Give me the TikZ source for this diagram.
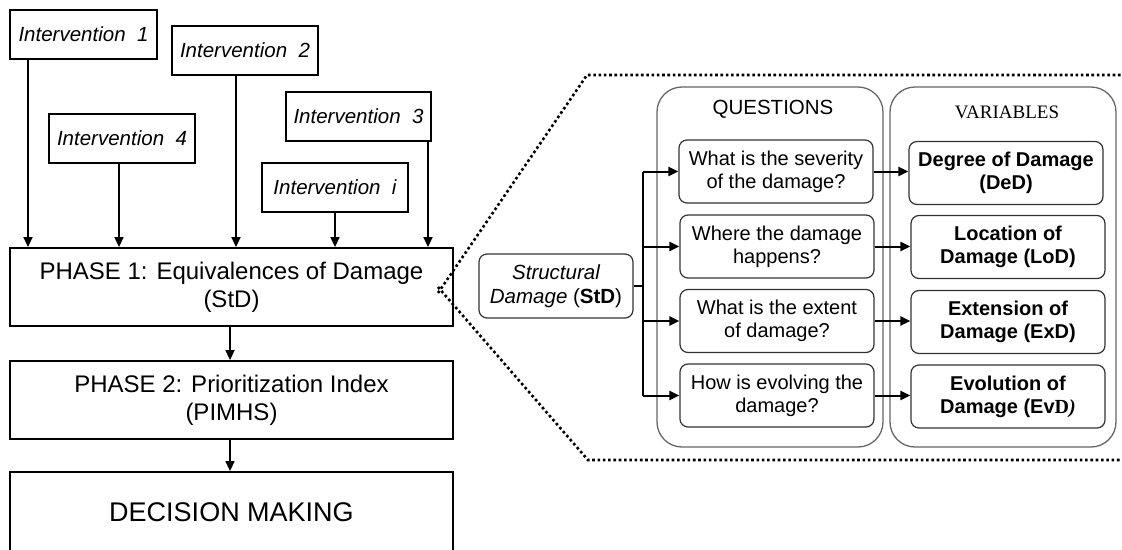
\documentclass[tikz,border=0pt]{standalone}
\usepackage{fontspec}
\setmainfont{Liberation Sans}
\newfontfamily\serifV{Liberation Serif}
\usetikzlibrary{arrows.meta,calc}
\begin{document}
\begin{tikzpicture}[x=1pt,y=-1pt,
  intbox/.style={draw=black, line width=1.8pt, inner sep=0pt, minimum height=49pt,
    font=\fontsize{20.5}{24}\selectfont\itshape},
  phasebox/.style={draw=black, line width=1.8pt, inner sep=0pt, minimum width=443pt,
    minimum height=78pt, align=center, font=\fontsize{24}{28}\selectfont},
  qbox/.style={draw=black!80, line width=1.2pt, rounded corners=8pt, inner sep=0pt,
    minimum width=194pt, minimum height=63pt, align=center, font=\fontsize{20}{23}\selectfont},
  vbox/.style={qbox, font=\fontsize{20}{23}\selectfont\bfseries},
  container/.style={draw=black!60, line width=1.3pt, rounded corners=25pt},
  arr/.style={line width=1.5pt, -{Triangle[length=10pt,width=9pt]}},
  barr/.style={line width=2pt, -{Triangle[length=10pt,width=9pt]}},
  dots/.style={line width=2.6pt, dash pattern=on 2.6pt off 2.7pt}
]
\useasboundingbox (0,0) rectangle (1122,549);
\clip (0,0) rectangle (1122,549);

% intervention boxes
\node[intbox, minimum width=147pt] (I1) at (83.5,34.5) {Intervention~~1};
\node[intbox, minimum width=146pt] (I2) at (245,50.5) {Intervention~~2};
\node[intbox, minimum width=145pt] (I3) at (358.5,116.5) {Intervention~~3};
\node[intbox, minimum width=146pt] (I4) at (122,138.5) {Intervention~~4};
\node[intbox, minimum width=146pt] (Ii) at (335,187.5) {Intervention~~i};

% phases
\node[phasebox] (P1) at (231.5,287) {PHASE 1: Equivalences of Damage\\(StD)};
\node[phasebox] (P2) at (231.5,400) {PHASE 2: Prioritization Index\\(PIMHS)};
\node[phasebox, minimum height=80pt, font=\fontsize{27}{30}\selectfont] (DM) at (231.5,512) {DECISION MAKING};

% intervention arrows
\draw[arr] (I1.south -| 28,0) -- (P1.north -| 28,0);
\draw[arr] (I4.south -| 119,0) -- (P1.north -| 119,0);
\draw[arr] (I2.south -| 236,0) -- (P1.north -| 236,0);
\draw[arr] (Ii.south) -- (P1.north -| Ii.south);
\draw[arr] (I3.south -| 428,0) -- (P1.north -| 428,0);

% phase arrows
\draw[arr] (P1.south -| 230,0) -- (P2.north -| 230,0);
\draw[arr] (P2.south -| 230,0) -- (DM.north -| 230,0);

% dotted zoom lines
\coordinate (zt) at (587,75);
\coordinate (zb) at (588,460);
\draw[dots] (438,293) -- (zt) -- (1122,75);
\draw[dots] (438,287) -- (zb) -- (1122,460);

% containers
\node[container, minimum width=226pt, minimum height=360pt] (QC) at (770,267) {};
\node[container, minimum width=226pt, minimum height=360pt] (VC) at (1003,267) {};
\node[font=\fontsize{20.5}{24}\selectfont] (QT) at (773,109) {QUESTIONS};
\node[font=\fontsize{19}{22}\selectfont\serifV] (VT) at (1007,112) {VARIABLES};

% structural damage
\node[qbox, minimum width=154pt, minimum height=64pt, font=\fontsize{20.5}{24}\selectfont] (StD) at (556,286)
  {\itshape Structural\\\itshape Damage \upshape(\textbf{StD})};

% questions
\node[qbox] (Q1) at (776,171.5) {What is the severity\\of the damage?};
\node[qbox] (Q2) at (777,246.5) {Where the damage\\happens?};
\node[qbox] (Q3) at (777,321) {What is the extent\\of damage?};
\node[qbox] (Q4) at (777,395.5) {How is evolving the\\damage?};

% variables
\node[vbox] (V1) at (1006,173) {Degree of Damage\\(DeD)};
\node[vbox] (V2) at (1008,247) {Location of\\Damage (LoD)};
\node[vbox] (V3) at (1008,322) {Extension of\\Damage (ExD)};
\node[vbox] (V4) at (1008,396.5) {Evolution of\\Damage (Ev{\serifV D\itshape)}};

% branches
\coordinate (br) at ($(StD.east)+(9,0)$);
\draw[line width=2pt] (StD.east) -- (br);
\draw[line width=2pt] (br |- Q1.west) -- (br |- Q4.west);
\foreach \q in {Q1,Q2,Q3,Q4}
  \draw[barr] (br |- \q.west) -- (\q.west);

% question -> variable arrows
\draw[barr] (Q1.east) -- (Q1.east -| V1.west);
\draw[barr] (Q2.east) -- (Q2.east -| V2.west);
\draw[barr] (Q3.east) -- (Q3.east -| V3.west);
\draw[barr] (Q4.east) -- (Q4.east -| V4.west);
\end{tikzpicture}
\end{document}
